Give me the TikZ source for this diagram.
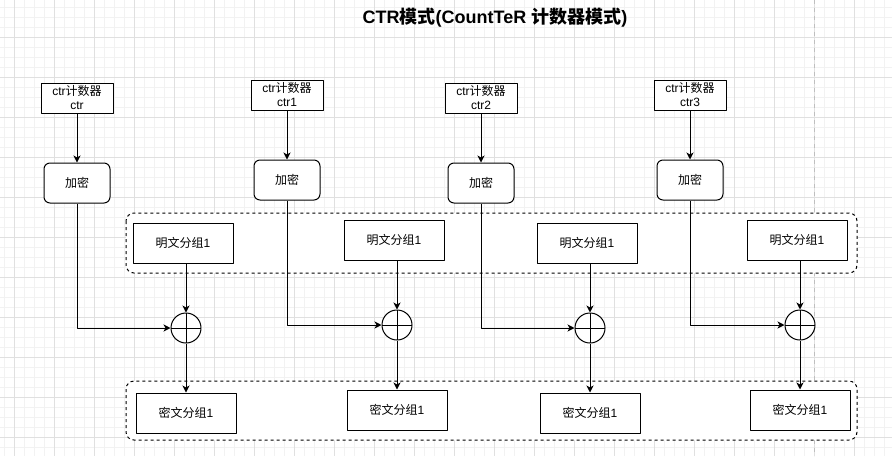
\documentclass[tikz,border=0pt]{standalone}
\usepackage{fontspec}
\setmainfont{Liberation Sans}
\newfontfamily\cjk{Noto Sans CJK SC}
\usetikzlibrary{arrows.meta}
\begin{document}
\begin{tikzpicture}[x=1pt,y=-1pt,line width=1pt,line join=round,>={Stealth[length=7pt,width=7pt,inset=2pt]},
	every node/.style={font=\fontsize{12}{14}\selectfont},
	ctrbox/.style={draw,fill=white,minimum width=72pt,minimum height=30pt,inner sep=0pt,align=center},
	encbox/.style={draw,fill=white,rounded corners=6pt,minimum width=66pt,minimum height=40pt},
	blockbox/.style={draw,fill=white,minimum width=100pt,minimum height=40pt},
	xorc/.style={draw,fill=white,circle,minimum size=30pt,inner sep=0pt,
		path picture={\draw (path picture bounding box.west)--(path picture bounding box.east)
			(path picture bounding box.north)--(path picture bounding box.south);}},
	groupbox/.style={draw,fill=white,dash pattern=on 3pt off 3pt,rounded corners=8pt},
	gridminor/.style={line width=0.7pt,black!5},
	gridmajor/.style={line width=0.7pt,black!12},
	pagebreak/.style={line width=0.8pt,black!25,dash pattern=on 4pt off 4pt}]
	\useasboundingbox (0,0) rectangle (892,456);
	\fill[white] (0,0) rectangle (892,456);
	\foreach \x in {4,14,...,884}
	\draw[gridminor] (\x,0)--(\x,456);
	\foreach \y in {7,17,...,447}
	\draw[gridminor] (0,\y)--(892,\y);
	\foreach \x in {14,54,...,854}
	\draw[gridmajor] (\x,0)--(\x,456);
	\foreach \y in {37,77,...,437}
	\draw[gridmajor] (0,\y)--(892,\y);
	\draw[pagebreak] (814,0)--(814,456);
	\node (title) at (495,18) {\fontsize{18}{20}\selectfont\bfseries CTR{\cjk 模式}(CountTeR {\cjk 计数器模式})};
	\draw[groupbox] (126,213) rectangle (857,273);
	\draw[groupbox] (126,381) rectangle (857,440);
	\foreach \n/\cx/\xx/\dy/\lab in {0/77/186/0/ctr,1/287/397/-3/ctr1,2/481/590/0/ctr2,3/690/800/-3/ctr3}{
		\node[ctrbox] (ctr\n) at (\cx,98+\dy) {ctr{\cjk 计数器}\\\lab};
		\node[encbox] (enc\n) at (\cx,183+\dy) {\cjk 加密};
		\node[blockbox] (plain\n) at (\xx-3,243+\dy) {{\cjk 明文分组}1};
		\node[xorc] (xor\n) at (\xx,328+\dy) {};
		\node[blockbox] (cipher\n) at (\xx,413+\dy) {{\cjk 密文分组}1};
		\draw[->] (ctr\n)--(enc\n);
		\draw[->] (enc\n) |- (xor\n);
		\draw[->] (plain\n.south -| xor\n)--(xor\n);
		\draw[->] (xor\n)--(cipher\n);
	}
\end{tikzpicture}
\end{document}
